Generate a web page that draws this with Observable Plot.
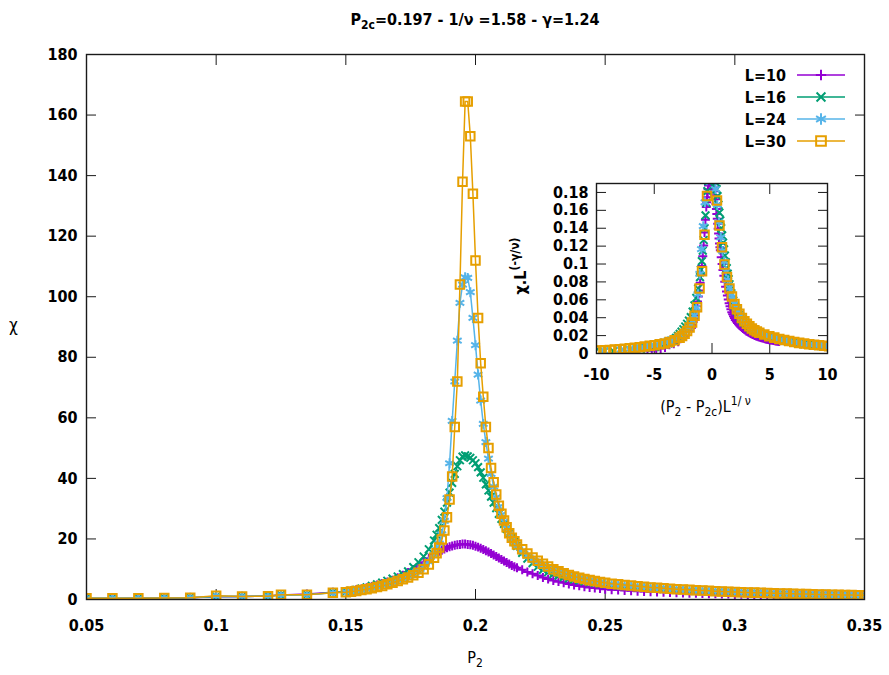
<!DOCTYPE html>
<html>
<head>
<meta charset="utf-8">
<script src="https://cdn.jsdelivr.net/npm/d3@7"></script>
<script src="https://cdn.jsdelivr.net/npm/@observablehq/plot@0.6"></script>
<style>
  html,body{margin:0;padding:0;background:#fff;}
  #wrap{position:relative;width:889px;height:675px;overflow:hidden;
        font-family:"DejaVu Sans Condensed","DejaVu Sans",sans-serif;font-weight:bold;color:#000;}
  #wrap > svg, #wrap > figure{position:absolute;margin:0;}
  .lab{position:absolute;white-space:nowrap;font-size:16px;line-height:16px;}
  .lab sub{font-size:12px;vertical-align:-4px;line-height:0;}
  .lab sup{font-size:12px;vertical-align:7px;line-height:0;}
</style>
</head>
<body>
<div id="wrap"></div>
<script>
// ---- parameters from the title ----
const P2c = 0.197, invNu = 1.58, gamma = 1.24;

// ---- data: sampled P2 values (shared by all series) ----
const P2 = [
0.05,0.06,0.07,0.08,0.09,0.10,0.11,0.12,0.125,0.135,0.145,
0.150,0.152,0.154,0.156,0.158,0.160,0.162,0.164,0.166,0.168,0.170,0.172,0.174,0.176,0.178,0.180,0.182,0.184,
0.185,0.186,0.187,0.188,0.189,0.190,0.191,0.192,0.193,0.194,0.195,0.196,0.197,0.198,0.199,0.200,0.201,0.202,0.203,0.204,0.205,0.206,0.207,0.208,0.209,0.210,0.211,0.212,0.213,0.214,0.215,
0.216,0.218,0.220,0.222,0.224,0.226,0.228,0.230,0.232,0.234,0.236,0.238,0.240,0.242,0.244,0.246,0.248,0.250,
0.2525,0.255,0.2575,0.260,0.2625,0.265,0.2675,0.270,0.2725,0.275,0.2775,0.280,0.2825,0.285,0.2875,0.290,0.2925,0.295,0.2975,0.300,
0.3025,0.305,0.3075,0.310,0.3125,0.315,0.3175,0.320,0.3225,0.325,0.3275,0.330,0.3325,0.335,0.3375,0.340,0.3425,0.345,0.3475,0.350];

const chiL10 = [
0.3,0.3,0.4,0.5,0.6,0.9,1.0,1.2,1.5,1.8,2.4,
2.6,2.9,3.2,3.5,3.9,4.3,4.8,5.3,5.8,6.4,7.2,8.0,8.9,9.9,11.0,12.3,13.6,14.9,
15.4,15.9,16.3,16.7,17.1,17.4,17.7,17.9,18.1,18.2,18.3,18.3,18.2,18.1,17.9,17.6,17.3,16.9,16.5,16.1,15.7,15.2,14.7,14.2,13.7,13.2,12.7,12.2,11.7,11.2,10.8,
10.5,9.8,9.1,8.5,7.9,7.3,6.8,6.3,5.9,5.5,5.1,4.8,4.5,4.2,4.0,3.8,3.6,3.4,
3.25,3.1,2.97,2.85,2.74,2.64,2.55,2.46,2.38,2.3,2.23,2.16,2.1,2.04,1.98,1.93,1.88,1.83,1.79,1.75,
1.71,1.67,1.63,1.6,1.57,1.54,1.51,1.48,1.45,1.43,1.4,1.38,1.36,1.34,1.32,1.3,1.28,1.26,1.24,1.22];

const chiL16 = [
0.4,0.4,0.4,0.5,0.6,1.0,1.0,1.1,1.5,1.6,2.3,
2.6,2.9,3.2,3.6,4.0,4.5,5.0,5.6,6.2,6.9,7.6,8.4,9.3,10.7,12.3,14.2,16.6,19.5,
21.4,23.6,26.3,29.0,32.0,35.3,38.5,41.5,44.0,46.0,47.2,47.6,47.3,46.8,46.0,45.0,43.7,42.0,40.2,38.0,36.0,34.0,32.0,30.2,28.3,26.6,25.0,23.3,21.8,20.4,19.0,
17.7,15.4,13.5,12.0,10.8,9.8,9.0,8.4,7.9,7.4,7.0,6.6,6.3,6.0,5.7,5.5,5.2,5.0,
4.8,4.6,4.45,4.3,4.1,3.95,3.8,3.65,3.5,3.37,3.25,3.13,3.02,2.92,2.82,2.72,2.63,2.55,2.47,2.39,
2.31,2.24,2.17,2.1,2.04,1.98,1.92,1.87,1.82,1.77,1.72,1.67,1.62,1.58,1.53,1.49,1.45,1.41,1.38,1.35];

const chiL24 = [
0.4,0.4,0.4,0.5,0.6,1.1,1.0,1.1,1.5,1.6,2.2,
2.5,2.7,2.9,3.2,3.5,3.9,4.3,4.7,5.2,5.8,6.4,7.0,7.7,8.5,9.5,10.8,12.5,14.8,
16.3,18.5,21.5,26.0,33.5,45.0,59.0,72.0,85.5,98.0,104.0,106.4,106.2,101.5,93.0,84.0,74.3,65.7,58.0,52.0,46.5,41.5,37.3,33.7,30.6,28.0,25.7,23.6,21.8,20.2,18.8,
17.7,15.9,14.4,13.2,12.1,11.2,10.4,9.7,9.1,8.5,8.0,7.5,7.1,6.7,6.3,6.0,5.7,5.4,
5.1,4.9,4.7,4.5,4.3,4.1,3.95,3.8,3.65,3.5,3.37,3.25,3.13,3.02,2.92,2.82,2.72,2.63,2.55,2.47,
2.39,2.31,2.24,2.17,2.1,2.04,1.98,1.92,1.87,1.82,1.77,1.72,1.67,1.62,1.58,1.53,1.49,1.45,1.41,1.38];

const chiL30 = [
0.4,0.4,0.4,0.5,0.6,1.2,1.0,1.1,1.6,1.6,2.2,
2.4,2.6,2.8,3.1,3.4,3.7,4.1,4.5,5.0,5.5,6.1,6.7,7.3,8.0,8.8,10.0,11.6,13.8,
15.3,17.2,19.8,22.8,27.2,33.0,40.6,57.0,72.0,104.0,138.0,164.5,164.5,153.0,134.0,112.0,93.0,78.0,67.0,57.0,50.0,43.4,38.7,34.7,31.0,28.3,26.1,23.9,21.9,20.4,19.2,
18.2,16.6,15.2,13.9,12.8,11.8,10.9,10.0,9.3,8.7,8.1,7.6,7.2,6.8,6.4,6.1,5.8,5.5,
5.2,5.0,4.8,4.6,4.4,4.2,4.0,3.85,3.7,3.55,3.42,3.3,3.18,3.07,2.96,2.86,2.76,2.67,2.58,2.5,
2.42,2.34,2.27,2.2,2.13,2.07,2.01,1.95,1.89,1.84,1.79,1.74,1.69,1.64,1.6,1.55,1.51,1.47,1.43,1.4];

const seriesNames = ["L=10","L=16","L=24","L=30"];
const sizes = [10,16,24,30];
const colors = ["#9400d3","#009e73","#56b4e9","#e69f00"];
const symbols = ["plus","times","asterisk","square"];
const radii = [3.0,3.6,4.7,4.8];
const chis = [chiL10, chiL16, chiL24, chiL30];

const xTicks = [0.05,0.1,0.15,0.2,0.25,0.3,0.35];
const yTicks = [0,20,40,60,80,100,120,140,160,180];
const insetXTicks = [-10,-5,0,5,10];
const insetYTicks = [0,0.02,0.04,0.06,0.08,0.1,0.12,0.14,0.16,0.18];

// ---- build tables ----
const series = seriesNames.map((name,k) => ({
  name, L: sizes[k], color: colors[k], symbol: symbols[k], r: radii[k],
  rows: P2.map((p,i) => ({p, chi: chis[k][i],
    xs: (p - P2c) * Math.pow(sizes[k], invNu),
    ys: chis[k][i] * Math.pow(sizes[k], -gamma * invNu)}))
}));

const fmt = d => String(+d.toFixed(2));
const FONT = '"DejaVu Sans Condensed","DejaVu Sans",sans-serif';
const AX = "#1a1a1a";
const MSW = 2;

function axes(xt, yt, padX, padY, tick) {
  return [
    Plot.axisX(xt, {anchor:"bottom", tickSize:0, tickPadding:padX, tickFormat:fmt, label:null}),
    Plot.axisX(xt, {anchor:"bottom", tickSize:-tick, tickFormat:()=>"", label:null, stroke:AX}),
    Plot.axisX(xt, {anchor:"top", tickSize:-tick, tickFormat:()=>"", label:null, stroke:AX}),
    Plot.axisY(yt, {anchor:"left", tickSize:0, tickPadding:padY, tickFormat:fmt, label:null}),
    Plot.axisY(yt, {anchor:"left", tickSize:-tick, tickFormat:()=>"", label:null, stroke:AX}),
    Plot.axisY(yt, {anchor:"right", tickSize:-tick, tickFormat:()=>"", label:null, stroke:AX})
  ];
}

const style = {fontFamily: FONT, fontSize: "16px", fontWeight: "bold", color: "#000",
               background: "transparent", overflow: "visible"};

const main = Plot.plot({
  width: 889, height: 675,
  marginLeft: 86, marginRight: 25, marginTop: 54, marginBottom: 76,
  x: {domain: [0.05, 0.35]},
  y: {domain: [0, 180]},
  style,
  marks: [
    ...axes(xTicks, yTicks, 20, 9, 10),
    ...series.flatMap(s => [
      Plot.line(s.rows, {x:"p", y:"chi", stroke:s.color, strokeWidth:1.5, clip:true}),
      Plot.dot(s.rows, {x:"p", y:"chi", symbol:s.symbol, r:s.r, stroke:s.color, fill:"none", strokeWidth:MSW, clip:true})
    ]),
    Plot.frame({stroke: AX, strokeWidth: 1.4})
  ]
});

const inset = Plot.plot({
  width: 334, height: 250,
  marginLeft: 91, marginRight: 12, marginTop: 8, marginBottom: 72,
  x: {domain: [-10, 10]},
  y: {domain: [0, 0.19]},
  style,
  marks: [
    ...axes(insetXTicks, insetYTicks, 15, 8, 10),
    ...series.map(s =>
      Plot.dot(s.rows, {x:"xs", y:"ys", symbol:s.symbol, r:s.r, stroke:s.color, fill:"none", strokeWidth:MSW, clip:true})
    ),
    Plot.frame({stroke: AX, strokeWidth: 1.4})
  ]
});

const wrap = document.getElementById("wrap");
main.style.left = "0px"; main.style.top = "0px";
inset.style.left = "505px"; inset.style.top = "175px";
wrap.appendChild(main);
wrap.appendChild(inset);

// ---- legend (key) ----
const symMap = {plus: d3.symbolPlus, times: d3.symbolTimes, asterisk: d3.symbolAsterisk, square: d3.symbolSquare};
const leg = d3.select(wrap).append("svg")
  .attr("width", 889).attr("height", 675)
  .style("left","0px").style("top","0px")
  .style("font-family", FONT).style("font-size","16px").style("font-weight","bold");
series.forEach((s,i) => {
  const cy = 75 + i*22;
  leg.append("text").attr("x", 786).attr("y", cy).attr("dy","0.36em")
     .attr("text-anchor","end").attr("fill","#000").text(s.name);
  leg.append("line").attr("x1",797).attr("x2",845).attr("y1",cy).attr("y2",cy)
     .attr("stroke", s.color).attr("stroke-width",1.5);
  leg.append("path").attr("transform",`translate(821,${cy})`)
     .attr("d", d3.symbol(symMap[s.symbol], Math.PI*s.r*s.r*1.3)())
     .attr("fill","none").attr("stroke", s.color).attr("stroke-width",MSW);
});

// ---- text labels ----
function label(html, css) {
  const d = document.createElement("div");
  d.className = "lab"; d.innerHTML = html;
  Object.assign(d.style, css);
  wrap.appendChild(d);
  return d;
}
label("P<sub>2c</sub>=0.197 - 1/ν =1.58 - γ=1.24", {left:"86px", width:"778px", textAlign:"center", top:"12px"});
label("P<sub>2</sub>", {left:"86px", width:"778px", textAlign:"center", top:"650px", fontWeight:"normal"});
label("χ", {left:"9px", top:"317px", fontWeight:"normal", fontSize:"17px"});
label("(P<sub>2</sub> - P<sub>2c</sub>)L<sup>1/ ν</sup>", {left:"590px", width:"231px", textAlign:"center", top:"399px", fontWeight:"normal"});
label("χ.L<sup>(-γ/ν)</sup>", {left:"521px", top:"266px", transform:"translate(-50%,-50%) rotate(-90deg)", fontWeight:"bold"});
</script>
</body>
</html>
